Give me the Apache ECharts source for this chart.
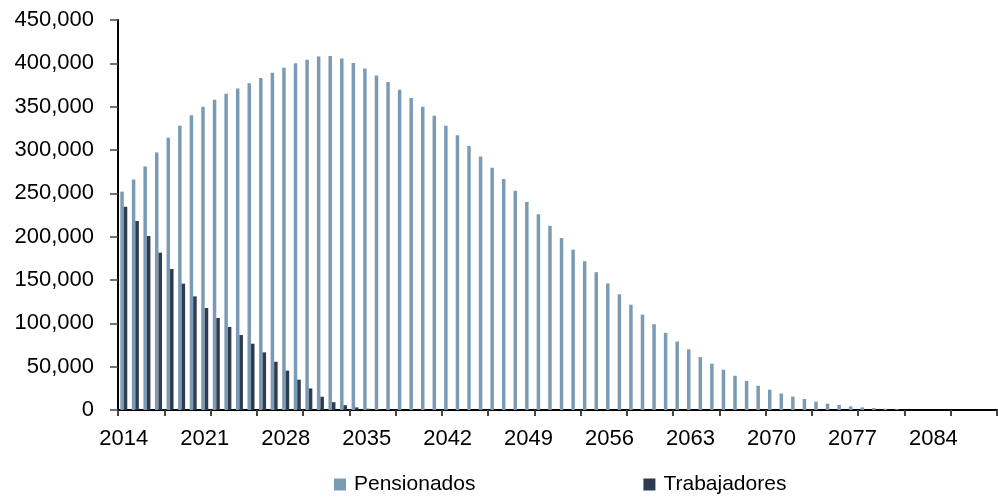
<!DOCTYPE html>
<html>
<head>
<meta charset="utf-8">
<script src="https://cdn.jsdelivr.net/npm/echarts@6/dist/echarts.min.js"></script>
<style>
html,body{margin:0;padding:0;background:#fff;}
#chart{width:998px;height:497px;}
</style>
</head>
<body>
<div id="chart"></div>
<script>
var years = ['2014','2015','2016','2017','2018','2019','2020','2021','2022','2023',
'2024','2025','2026','2027','2028','2029','2030','2031','2032','2033',
'2034','2035','2036','2037','2038','2039','2040','2041','2042','2043',
'2044','2045','2046','2047','2048','2049','2050','2051','2052','2053',
'2054','2055','2056','2057','2058','2059','2060','2061','2062','2063',
'2064','2065','2066','2067','2068','2069','2070','2071','2072','2073',
'2074','2075','2076','2077','2078','2079','2080','2081','2082','2083',
'2084','2085','2086','2087','2088','2089'];

var pensionados = [252000,266000,281000,297000,314000,328000,340000,350000,358000,365000,
371000,377000,383000,389000,395000,400000,404000,408000,408500,405500,
400500,394000,386000,378500,369500,360000,350000,339500,328000,317000,
304500,292500,279500,266500,253000,240000,226000,212500,198500,185000,
171500,159000,146000,133500,121500,110000,99000,89000,79000,70000,
61000,53500,46500,39500,33500,28000,23500,19000,15500,12700,
9600,7300,5800,4200,3000,2300,1500,1000,0,0,
0,0,0,0,0,0];

var trabajadores = [234600,218100,200800,181500,162700,145800,131100,117700,106200,95800,
86500,76500,66500,55700,45400,35000,24900,15300,9000,5500,
3000,1500,700,0,0,0,0,0,0,0,
0,0,0,0,0,0,0,0,0,0,
0,0,0,0,0,0,0,0,0,0,
0,0,0,0,0,0,0,0,0,0,
0,0,0,0,0,0,0,0,0,0,
0,0,0,0,0,0];

var seriesNames = ['Pensionados','Trabajadores'];
var colors = ['#7b9bb4','#2e3c4f'];

var chart = echarts.init(document.getElementById('chart'), null, {renderer:'canvas'});
var font = '"Liberation Sans", Arial, Helvetica, sans-serif';
chart.setOption({
  animation:false,
  backgroundColor:'#ffffff',
  grid:{left:118, right:1, top:20, bottom:87, containLabel:false},
  legend:{
    data:seriesNames,
    left:329, top:469,
    itemWidth:12, itemHeight:12, itemGap:168,
    icon:'rect',
    textStyle:{fontFamily:font, fontSize:21, color:'#000', padding:[0,0,0,3]}
  },
  xAxis:{
    type:'category',
    data:years,
    boundaryGap:true,
    axisLine:{lineStyle:{color:'#000', width:2}},
    axisTick:{show:true, interval:3, length:6, inside:false, lineStyle:{color:'#444', width:2}},
    axisLabel:{interval:6, margin:18, fontFamily:font, fontSize:22, color:'#000'},
    splitLine:{show:false}
  },
  yAxis:{
    type:'value',
    min:0, max:450000, interval:50000,
    axisLine:{show:true, lineStyle:{color:'#000', width:2}},
    axisTick:{show:true, length:8, lineStyle:{color:'#444', width:1.5}},
    axisLabel:{margin:24, fontFamily:font, fontSize:22, color:'#000',
      formatter:function(v){return v.toLocaleString('en-US');}},
    splitLine:{show:false}
  },
  series:[
    {name:seriesNames[0], type:'bar', data:pensionados, barWidth:3.5, barGap:'0%',
     itemStyle:{color:colors[0]}},
    {name:seriesNames[1], type:'bar', data:trabajadores, barWidth:3.5, barGap:'0%',
     itemStyle:{color:colors[1]}}
  ]
});
</script>
</body>
</html>
